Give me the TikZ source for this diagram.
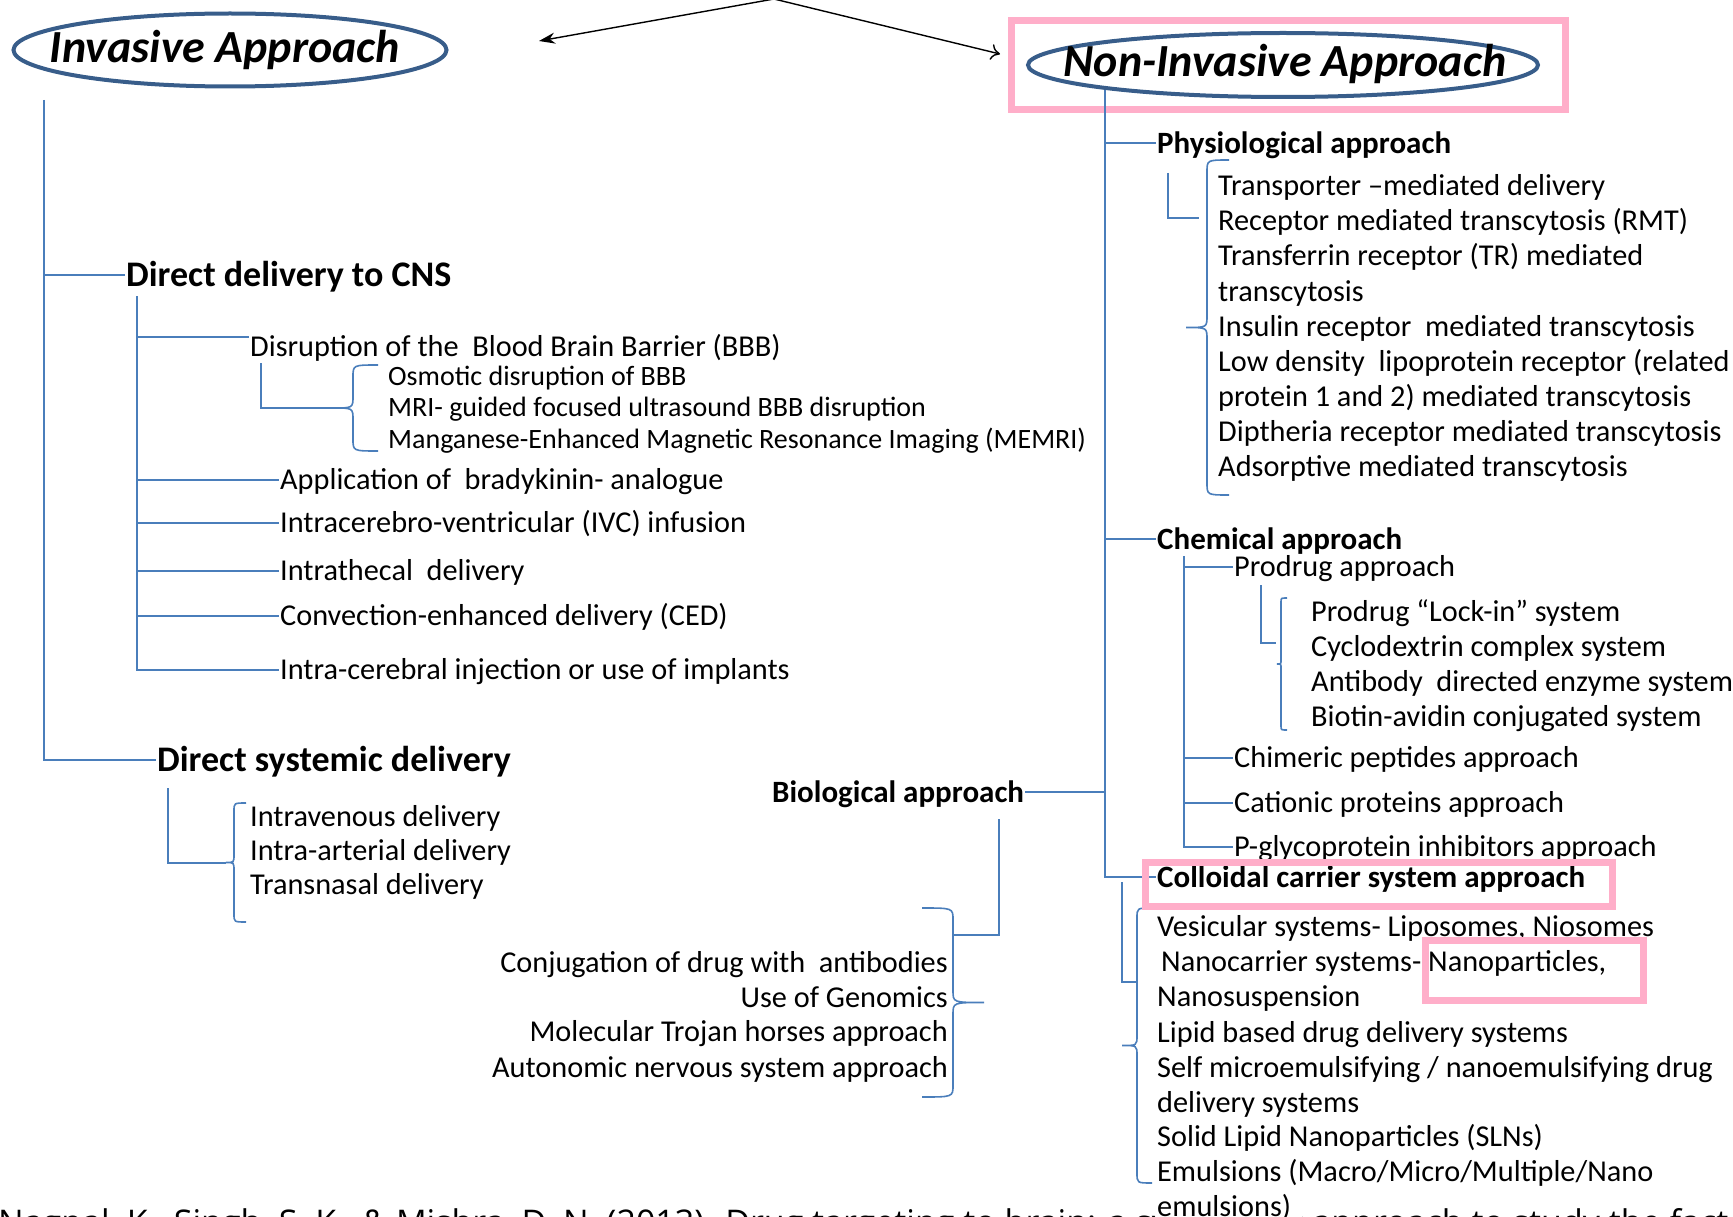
\documentclass[tikz,border=0pt]{standalone}
\usepackage{fontspec}
\setmainfont{Carlito}
\newfontfamily\citefont{Open Sans}
\usetikzlibrary{shapes.geometric,arrows.meta}

\definecolor{linkblue}{RGB}{74,126,187}
\definecolor{ovalblue}{RGB}{56,93,138}
\definecolor{hilitepink}{RGB}{255,174,201}

% brace: #1 hook x, #2 spine x, #3 tip x, #4 top y, #5 bottom y, #6 curl
\newcommand{\officebrace}[6]{%
  \pgfmathsetmacro\bmid{(#4+#5)/2}%
  \draw[link] (#1,#4) .. controls (#2,#4) .. (#2,#4+#6) -- (#2,\bmid-#6)
    .. controls (#2,\bmid) .. (#3,\bmid) .. controls (#2,\bmid) .. (#2,\bmid+#6)
    -- (#2,#5-#6) .. controls (#2,#5) .. (#1,#5);}

\begin{document}
\begin{tikzpicture}[x=1pt,y=-1pt,
  every node/.style={inner xsep=1pt,inner ysep=0pt,text depth=0pt},
  link/.style={draw=linkblue,line width=1.6pt},
  oval/.style={draw=ovalblue,line width=4pt,ellipse,inner sep=0pt},
  hilite/.style={draw=hilitepink,line width=7pt},
  bigtitle/.style={text height=29.9pt,font=\fontsize{46}{50}\selectfont\bfseries\itshape},
  lhead/.style={anchor=west,text height=23.4pt,font=\fontsize{36}{40}\selectfont\bfseries},
  rhead/.style={anchor=west,text height=20.2pt,font=\fontsize{31}{36}\selectfont\bfseries},
  item/.style={anchor=west,text height=19.6pt,font=\fontsize{30.3}{35}\selectfont},
  subitem/.style={anchor=west,text height=18.2pt,font=\fontsize{28}{32}\selectfont}]
\useasboundingbox (0,0) rectangle (1733,1217);
\clip (0,0) rectangle (1733,1217);

% Two approaches
\node[oval,minimum width=433pt,minimum height=73pt] (invoval) at (230,50) {};
\node[bigtitle] (inv) at (225,48) {Invasive Approach};
\node[oval,minimum width=510pt,minimum height=64pt] (ninvoval) at (1283,65) {};
\node[bigtitle] (ninv) at (1285,62) {Non-Invasive Approach};
\draw[hilite] (1011.5,20.5) rectangle (1565.5,109.5);

\coordinate (apex) at (774,-1);
\coordinate (invtip) at (539,41);
\coordinate (ninvtip) at (1000,54);
\draw[line width=1.4pt,-{Stealth[length=16pt,width=11pt]}] (apex) -- (invtip);
\draw[line width=1.4pt,-{To[length=9pt,width=16pt]}] (apex) -- (ninvtip);

% Invasive side
\node[lhead] (cns) at (125,275) {Direct delivery to CNS};
\node[lhead] (sys) at (156,760) {Direct systemic delivery};
\coordinate (ltop) at (44,100);
\draw[link] (ltop) |- (sys.west);
\draw[link] (ltop |- cns.west) -- (cns.west);

\node[item] (bbb) at (249,347) {Disruption of the~ Blood Brain Barrier (BBB)};
\node[subitem] (osm) at (387,376) {Osmotic disruption of BBB};
\node[subitem] (mri) at (387,407) {MRI- guided focused ultrasound BBB disruption};
\node[subitem] (memri) at (387,439) {Manganese-Enhanced Magnetic Resonance Imaging (MEMRI)};
\node[item] (brady) at (279,480) {Application of~ bradykinin- analogue};
\node[item] (icv) at (279,523) {Intracerebro-ventricular (IVC) infusion};
\node[item] (ith) at (279,571) {Intrathecal~ delivery};
\node[item] (ced) at (279,616) {Convection-enhanced delivery (CED)};
\node[item] (impl) at (279,670) {Intra-cerebral injection or use of implants};
\coordinate (ctop) at (137,296);
\draw[link] (ctop) |- (impl.west);
\draw[link] (ctop |- bbb.north west) -- (bbb.north west);
\foreach \n in {brady,icv,ith,ced}
  \draw[link] (ctop |- \n.west) -- (\n.west);
\coordinate (bbbtop) at (261,363);
\coordinate (bbbtip) at (333,408);
\draw[link] (bbbtop) |- (bbbtip);
\officebrace{378}{353}{333}{365}{451}{12}

\node[item] (iv) at (249,817) {Intravenous delivery};
\node[item] (ia) at (249,851) {Intra-arterial delivery};
\node[item] (tn) at (249,885) {Transnasal delivery};
\coordinate (systop) at (168,788);
\coordinate (systip) at (226,863);
\draw[link] (systop) |- (systip);
\officebrace{246}{234}{226}{803}{922}{8}

% Non-invasive side
\coordinate (rtop) at (1105,90);
\node[rhead] (phys) at (1156,143) {Physiological approach};
\node[rhead] (chem) at (1156,539) {Chemical approach};
\node[rhead] (bio) at (771,792) {Biological approach};
\node[rhead] (coll) at (1156,877) {Colloidal carrier system approach};
\draw[link] (rtop) |- (coll.west);
\foreach \n in {phys,chem}
  \draw[link] (rtop |- \n.west) -- (\n.west);
\draw[link] (bio.east) -- (rtop |- bio.east);

\node[item] (tmd) at (1217,186) {Transporter –mediated delivery};
\node[item] (rmt) at (1217,221) {Receptor mediated transcytosis (RMT)};
\node[item] (tfr) at (1217,256) {Transferrin receptor (TR) mediated};
\node[item] (tfr2) at (1217,292) {transcytosis};
\node[item] (ins) at (1217,327) {Insulin receptor~ mediated transcytosis};
\node[item] (ldl) at (1217,362) {Low density~ lipoprotein receptor (related};
\node[item] (ldl2) at (1217,397) {protein 1 and 2) mediated transcytosis};
\node[item] (dip) at (1217,432) {Diptheria receptor mediated transcytosis};
\node[item] (amt) at (1217,467) {Adsorptive mediated transcytosis};
\coordinate (physL) at (1168,173);
\coordinate (physR) at (1199,218);
\draw[link] (physL) |- (physR);
\officebrace{1229}{1207}{1186}{160}{495}{12}

\node[item] (pro) at (1233,567) {Prodrug approach};
\node[item] (chim) at (1233,758) {Chimeric peptides approach};
\node[item] (cat) at (1233,803) {Cationic proteins approach};
\node[item] (pgp) at (1233,847) {P-glycoprotein inhibitors approach};
\coordinate (chemtop) at (1184,556);
\draw[link] (chemtop) |- (pgp.west);
\foreach \n in {pro,chim,cat}
  \draw[link] (chemtop |- \n.west) -- (\n.west);
\node[item] (lock) at (1310,612) {Prodrug “Lock-in” system};
\node[item] (cyc) at (1310,647) {Cyclodextrin complex system};
\node[item] (adept) at (1310,682) {Antibody~ directed enzyme system};
\node[item] (avid) at (1310,717) {Biotin-avidin conjugated system};
\coordinate (proL) at (1261,585);
\coordinate (proR) at (1276,643);
\draw[link] (proL) |- (proR);
\officebrace{1287}{1281}{1277}{598}{730}{4}

\node[item,anchor=east] (conj) at (949,963) {Conjugation of drug with~ antibodies};
\node[item,anchor=east] (gen) at (949,998) {Use of Genomics};
\node[item,anchor=east] (troj) at (949,1032) {Molecular Trojan horses approach};
\node[item,anchor=east] (ans) at (949,1068) {Autonomic nervous system approach};
\coordinate (biotop) at (999,819);
\coordinate (biospine) at (953,935);
\draw[link] (biotop) |- (biospine);
\officebrace{922}{953}{984}{908}{1097}{12}

\node[item] (ves) at (1156,927) {Vesicular systems- Liposomes, Niosomes};
\node[item] (nano) at (1160,962) {Nanocarrier systems- Nanoparticles,};
\node[item] (nsus) at (1156,997) {Nanosuspension};
\node[item] (lipid) at (1156,1033) {Lipid based drug delivery systems};
\node[item] (smed) at (1156,1068) {Self microemulsifying / nanoemulsifying drug};
\node[item] (smed2) at (1156,1103) {delivery systems};
\node[item] (sln) at (1156,1137) {Solid Lipid Nanoparticles (SLNs)};
\node[item] (emu) at (1156,1172) {Emulsions (Macro/Micro/Multiple/Nano};
\coordinate (collL) at (1122,882);
\coordinate (collR) at (1138,982);
\draw[link] (collL) |- (collR);
\officebrace{1152}{1137}{1122}{908}{1183}{10}

% source line, cut by the page edge
\node[anchor=base west,text height=,font=\citefont\fontsize{34}{38}\selectfont] (cite) at (-3,1234)
  {Nagpal, K., Singh, S. K., \& Mishra, D. N. (2013). Drug targeting to brain: a systematic approach to study the factors};
\node[item,fill=white,inner ysep=4pt,text width=144pt] (emu2) at (1156,1207) {emulsions)};

% highlights
\draw[hilite] (1145.5,862.5) rectangle (1612.5,906.5);
\draw[hilite] (1425.5,940.5) rectangle (1643.5,1000.5);
\end{tikzpicture}
\end{document}
